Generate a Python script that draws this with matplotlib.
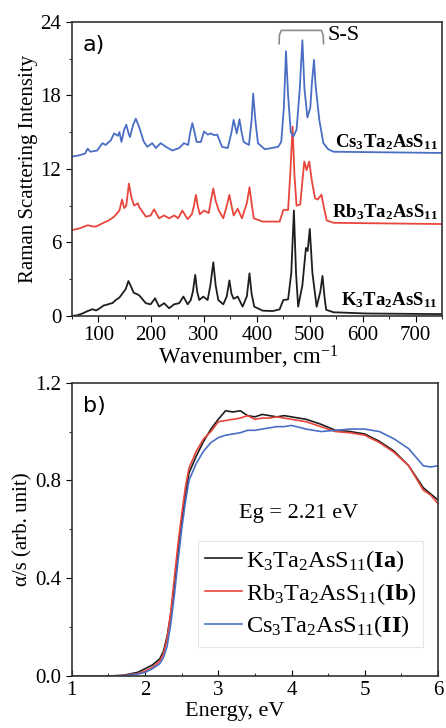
import numpy as np
import matplotlib
matplotlib.use("Agg")
import matplotlib.pyplot as plt
from matplotlib.ticker import MultipleLocator, FormatStrFormatter

plt.rcParams["font.family"] = ["Liberation Serif", "DejaVu Serif"]
plt.rcParams["mathtext.fontset"] = "custom"
plt.rcParams["mathtext.rm"] = "Liberation Serif"
plt.rcParams["mathtext.it"] = "Liberation Serif:italic"
plt.rcParams["mathtext.bf"] = "Liberation Serif:bold"

# Raman spectra (wavenumber, intensity) read off panel a)
k_x = [50, 60, 70, 80, 89, 96, 102, 110, 115, 122, 127, 133, 140, 147, 152, 157, 162, 167, 172, 177,
       190, 199, 207.5, 215, 224.6, 234, 243.5, 253, 261, 269, 275, 279, 283.4, 287, 291, 298.6, 306.8,
       312, 317.6, 322, 327, 336.5, 343, 348, 352, 356, 363.7, 373, 381, 386, 390, 395, 411, 430, 443,
       450, 459, 465, 470, 474, 478, 486, 492.7, 496, 500, 505, 513, 520, 524, 528, 531, 545, 608, 750]
k_y = [0.0, 0.05, 0.2, 0.4, 0.55, 0.45, 0.6, 0.85, 0.9, 1.0, 1.05, 1.3, 1.5, 1.9, 2.2, 2.85, 2.4, 1.9, 1.8, 1.7,
       1.04, 0.95, 1.44, 0.76, 1.04, 0.63, 0.95, 1.04, 1.58, 0.95, 1.3, 2.0, 3.35, 2.0, 1.3, 1.58, 1.3,
       2.5, 4.38, 2.5, 1.3, 0.95, 1.6, 2.9, 1.8, 1.4, 1.58, 0.76, 1.6, 3.48, 1.8, 0.76, 0.43, 0.4, 0.54,
       1.3, 1.35, 3.5, 8.6, 3.5, 0.76, 2.5, 5.55, 5.3, 7.1, 3.5, 0.75, 2.0, 3.27, 1.5, 0.5, 0.3, 0.2, 0.15]

rb_x = [50, 65, 80, 90, 96, 110, 120, 130, 140, 145, 149, 153, 158, 163, 168, 175, 177, 190, 199, 205.6,
        215, 224.6, 234, 243.5, 251, 259, 269, 277, 281, 284.7, 288, 292, 300, 309, 313, 317.6, 322, 328,
        336.5, 343, 348, 352, 356, 363.7, 371.7, 381, 386, 390, 394, 411, 433, 443, 450, 459, 463, 467.5,
        471, 475, 482, 486, 489.6, 494, 499, 504, 510, 515, 522, 527, 532, 545, 750]
rb_y = [7.0, 7.15, 7.4, 7.3, 7.3, 7.6, 7.8, 8.1, 8.6, 9.5, 8.8, 9.0, 10.8, 9.6, 9.0, 9.2, 8.92, 8.1, 8.2, 8.7,
        7.97, 8.2, 7.97, 8.2, 7.97, 8.6, 7.9, 8.3, 9.0, 9.88, 9.0, 8.3, 8.6, 8.4, 9.4, 10.4, 9.4, 8.6,
        7.97, 9.0, 9.88, 9.0, 8.2, 8.75, 7.97, 9.2, 10.5, 9.2, 7.97, 7.7, 7.7, 7.7, 8.65, 8.65, 11.5, 15.45,
        11.5, 9.0, 9.1, 11.0, 12.6, 11.9, 12.6, 11.0, 9.6, 9.5, 9.9, 8.8, 7.8, 7.6, 7.5]

cs_x = [50, 63, 75, 80, 85, 98, 108, 114, 124, 130, 137, 140, 144, 149, 153, 158, 160, 166, 171, 177,
        186, 193, 202, 209, 218, 228, 240, 253, 262, 270, 274, 278, 282, 286, 294, 300, 307, 313, 319,
        325, 334, 345, 352, 356, 362, 367, 371, 375, 385, 390, 393, 397, 402, 415, 440, 446, 451, 455,
        459, 464, 469, 475, 481, 486, 490, 495.5, 501, 504, 508, 511, 514, 518, 525.7, 535, 545, 750]
cs_y = [13.0, 13.1, 13.25, 13.65, 13.4, 13.5, 14.1, 13.95, 14.35, 14.9, 14.7, 15.0, 14.2, 15.2, 15.6, 14.8, 14.6, 15.6, 16.1, 15.45,
        14.23, 13.8, 14.1, 13.7, 14.1, 13.8, 13.5, 13.7, 14.1, 13.95, 15.0, 15.73, 15.0, 14.2, 14.2, 15.05, 14.8, 14.9, 14.75,
        14.8, 13.8, 13.7, 15.0, 16.0, 14.9, 16.05, 15.0, 14.2, 13.95, 16.0, 18.15, 16.0, 14.1, 13.6, 13.8, 14.2, 17.0, 21.6,
        18.0, 15.0, 14.65, 15.2, 18.5, 22.5, 18.5, 16.2, 17.0, 19.0, 20.9, 18.8, 17.6, 16.0, 14.1, 13.6, 13.4, 13.3]

# absorption spectra (energy, alpha/s) read off panel b)
e_x = [1.0, 1.5, 1.7, 1.9, 2.0, 2.1, 2.2, 2.25, 2.3, 2.35, 2.4, 2.45, 2.5, 2.55, 2.6, 2.7, 2.8, 2.9, 3.0, 3.1,
       3.2, 3.3, 3.4, 3.5, 3.6, 3.7, 3.8, 3.9, 4.0, 4.2, 4.4, 4.6, 4.8, 5.0, 5.2, 5.4, 5.6, 5.8, 5.9, 6.0]
k_abs = [0.0, 0.0, 0.003, 0.015, 0.03, 0.045, 0.07, 0.1, 0.16, 0.25, 0.37, 0.5, 0.63, 0.74, 0.83, 0.9, 0.96, 1.01, 1.05, 1.085,
         1.08, 1.085, 1.065, 1.06, 1.07, 1.065, 1.06, 1.065, 1.06, 1.05, 1.03, 1.005, 1.0, 0.99, 0.96, 0.92, 0.86, 0.77, 0.745, 0.72]
rb_abs = [0.0, 0.0, 0.002, 0.01, 0.02, 0.035, 0.06, 0.09, 0.15, 0.26, 0.4, 0.54, 0.66, 0.77, 0.85, 0.92, 0.97, 1.0, 1.04, 1.045,
          1.05, 1.055, 1.065, 1.05, 1.055, 1.055, 1.06, 1.055, 1.05, 1.04, 1.02, 1.0, 0.995, 0.985, 0.955, 0.915, 0.86, 0.76, 0.74, 0.705]
cs_abs = [0.0, 0.0, 0.001, 0.008, 0.015, 0.03, 0.05, 0.075, 0.12, 0.21, 0.33, 0.47, 0.6, 0.71, 0.8, 0.87, 0.92, 0.955, 0.975, 0.985,
          0.99, 0.995, 1.005, 1.005, 1.01, 1.015, 1.02, 1.02, 1.025, 1.01, 1.0, 1.005, 1.01, 1.01, 1.0, 0.97, 0.93, 0.86, 0.855, 0.86]

c_k, c_rb, c_cs = "#1e1e1e", "#e8463c", "#4a6ec4"

fig = plt.figure(figsize=(4.46, 7.28), dpi=100)
ax1 = fig.add_axes([0.161, 0.566, 0.830, 0.404])
ax2 = fig.add_axes([0.161, 0.0714, 0.821, 0.403])

# a) Raman
ax1.plot(k_x, k_y, color=c_k, lw=1.3)
ax1.plot(rb_x, rb_y, color=c_rb, lw=1.3)
ax1.plot(cs_x, cs_y, color=c_cs, lw=1.3)
ax1.set_xlim(50, 750)
ax1.set_ylim(0, 24)
ax1.xaxis.set_major_locator(MultipleLocator(100))
ax1.xaxis.set_minor_locator(MultipleLocator(50))
ax1.yaxis.set_major_locator(MultipleLocator(6))
ax1.yaxis.set_minor_locator(MultipleLocator(3))
ax1.tick_params(which="both", direction="out", labelsize=15)
ax1.tick_params(which="major", length=4)
ax1.tick_params(which="minor", length=2.5)
ax1.set_xlabel("Wavenumber, cm$^{-1}$", fontsize=16.5, labelpad=0)
ax1.xaxis.set_label_coords(0.476, -0.095)
ax1.set_ylabel("Raman Scattering Intensity", fontsize=15, labelpad=2)
ax1.text(0.03, 0.955, "a)", transform=ax1.transAxes, fontsize=16,
         family="DejaVu Sans", va="top")
ax1.text(742, 14.2, r"$\mathbf{Cs_{3}Ta_{2}AsS_{11}}$", ha="right", va="center", fontsize=13.5)
ax1.text(742, 8.45, r"$\mathbf{Rb_{3}Ta_{2}AsS_{11}}$", ha="right", va="center", fontsize=13.5)
ax1.text(742, 1.25, r"$\mathbf{K_{3}Ta_{2}AsS_{11}}$", ha="right", va="center", fontsize=13.5)
# S-S bracket
ax1.plot([442, 442.5, 446, 522, 525.5, 526], [22.2, 22.9, 23.3, 23.3, 22.9, 22.2],
         color="#8a8a8a", lw=1.2, solid_capstyle="round")
ax1.text(533, 22.85, "S-S", fontsize=16, va="center")

# b) absorption
ax2.plot(e_x, k_abs, color=c_k, lw=1.2, label=r"K$_3$Ta$_2$AsS$_{11}$($\mathbf{Ia}$)")
ax2.plot(e_x, rb_abs, color=c_rb, lw=1.2, label=r"Rb$_3$Ta$_2$AsS$_{11}$($\mathbf{Ib}$)")
ax2.plot(e_x, cs_abs, color=c_cs, lw=1.2, label=r"Cs$_3$Ta$_2$AsS$_{11}$($\mathbf{II}$)")
ax2.set_xlim(1, 6)
ax2.set_ylim(0, 1.2)
ax2.xaxis.set_major_locator(MultipleLocator(1))
ax2.xaxis.set_minor_locator(MultipleLocator(0.5))
ax2.yaxis.set_major_locator(MultipleLocator(0.4))
ax2.yaxis.set_minor_locator(MultipleLocator(0.2))
ax2.tick_params(axis="x", which="both", direction="in", labelsize=15)
ax2.tick_params(axis="y", which="both", direction="out", labelsize=15)
ax2.tick_params(which="major", length=4)
ax2.tick_params(which="minor", length=2.5)
ax2.yaxis.set_major_formatter(FormatStrFormatter("%.1f"))
ax2.set_xlabel("Energy, eV", fontsize=16, labelpad=0)
ax2.xaxis.set_label_coords(0.445, -0.088)
ax2.set_ylabel("α/s (arb. unit)", fontsize=15, labelpad=2)
ax2.text(0.03, 0.955, "b)", transform=ax2.transAxes, fontsize=16,
         family="DejaVu Sans", va="top")
ax2.text(4.1, 0.665, "Eg = 2.21 eV", fontsize=16, ha="center", va="center")
leg = ax2.legend(loc="lower right", bbox_to_anchor=(0.96, 0.1), fontsize=17.5,
                 frameon=True, fancybox=False, handlelength=1.5,
                 handletextpad=0.15, borderpad=0.3, labelspacing=0.28,
                 borderaxespad=0)
leg.get_frame().set_edgecolor("#e0e0e0")
leg.get_frame().set_linewidth(0.8)

for ax in (ax1, ax2):
    for s in ax.spines.values():
        s.set_color("#333333")
        s.set_linewidth(1.2)

fig.savefig("out.png", dpi=100)
